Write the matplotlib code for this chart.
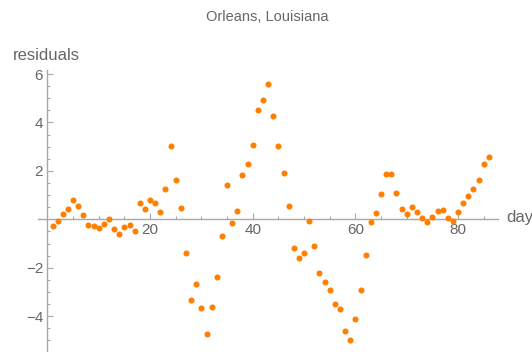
import matplotlib.pyplot as plt
from matplotlib.ticker import FixedLocator

plt.rcParams['font.family'] = ['Liberation Sans', 'DejaVu Sans']

# residuals per day
days = list(range(1, 87))
residuals = [
    -0.26, -0.06, 0.21, 0.41, 0.80, 0.54, 0.18, -0.25, -0.29, -0.36,
    -0.21, 0.00, -0.41, -0.61, -0.33, -0.25, -0.48, 0.66, 0.44, 0.80,
    0.66, 0.31, 1.24, 3.01, 1.61, 0.48, -1.37, -3.34, -2.68, -3.67,
    -4.73, -3.64, -2.40, -0.68, 1.41, -0.14, 0.34, 1.85, 2.28, 3.06,
    4.51, 4.92, 5.60, 4.25, 3.03, 1.93, 0.55, -1.17, -1.61, -1.38,
    -0.05, -1.10, -2.22, -2.58, -2.91, -3.51, -3.69, -4.61, -4.99, -4.12,
    -2.90, -1.46, -0.12, 0.25, 1.06, 1.89, 1.86, 1.09, 0.44, 0.21,
    0.50, 0.30, 0.06, -0.11, 0.08, 0.36, 0.40, 0.07, -0.07, 0.29,
    0.66, 0.95, 1.27, 1.63, 2.30, 2.58,
]
x_major = [20, 40, 60, 80]
y_major = [-4, -2, 2, 4, 6]

axis_col = '#a8a8a8'
text_col = '#666666'

fig = plt.figure(figsize=(5.32, 3.52), dpi=100)
ax = fig.add_axes([0, 0, 1, 1])
ax.set_xlim(-9.23, 94.4)
ax.set_ylim(-5.48, 9.06)

ax.scatter(days, residuals, s=19, color='#ff8000', linewidths=0, zorder=3)

for s in ['top', 'right']:
    ax.spines[s].set_visible(False)
ax.spines['left'].set_position(('data', 0))
ax.spines['bottom'].set_position(('data', 0))
ax.spines['left'].set_bounds(-5.48, 6.15)
ax.spines['bottom'].set_bounds(-1.8, 87.7)
for s in ['left', 'bottom']:
    ax.spines[s].set_color(axis_col)
    ax.spines[s].set_linewidth(1.0)

# minor ticks only inside the drawn axis lines
x_minor = [v for v in range(5, 90, 5) if v not in x_major]
y_minor = [k / 2 for k in range(-10, 13) if k != 0 and k / 2 not in y_major]

ax.set_xticks(x_major)
ax.set_yticks(y_major)
ax.xaxis.set_minor_locator(FixedLocator(x_minor))
ax.yaxis.set_minor_locator(FixedLocator(y_minor))
ax.tick_params(which='both', direction='in', color=axis_col, width=0.8,
               labelcolor=text_col, labelsize=11)
ax.tick_params(which='major', length=4)
ax.tick_params(which='minor', length=2.2)
ax.tick_params(axis='x', pad=2.5)
ax.tick_params(axis='y', pad=3)

fig.text(0.503, 0.951, 'Orleans, Louisiana', ha='center', va='center',
         fontsize=10.5, color=text_col)
fig.text(0.024, 0.841, 'residuals', ha='left', va='center',
         fontsize=12, color=text_col)
fig.text(0.952, 0.382, 'day', ha='left', va='center',
         fontsize=12, color=text_col)

fig.savefig('out.png', dpi=100)
